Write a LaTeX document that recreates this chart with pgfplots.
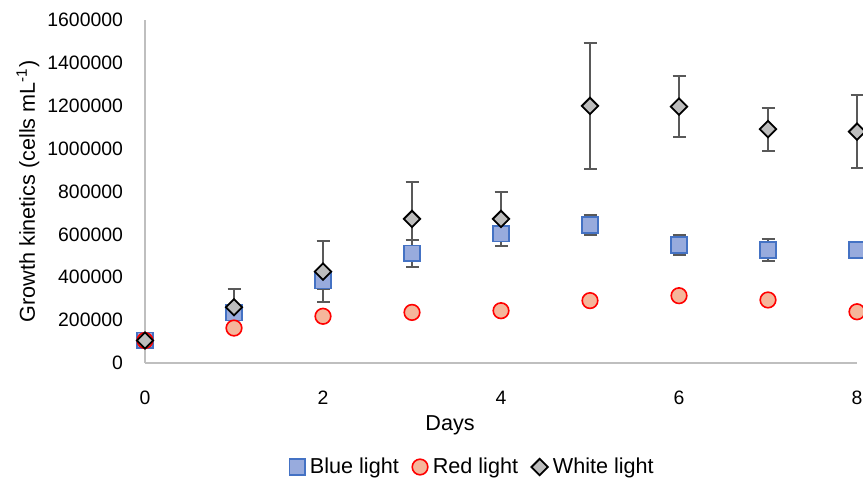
\documentclass[border=0pt]{standalone}
\usepackage{pgfplots}
\pgfplotsset{compat=1.18}
\usepackage{pgfplotstable}
\usetikzlibrary{calc}
\usepackage{fontspec}
\setmainfont{Liberation Sans}
\definecolor{axisgray}{HTML}{BFBFBF}
\definecolor{errgray}{HTML}{595959}
\definecolor{bluefill}{HTML}{98ABDD}
\definecolor{blueedge}{HTML}{4472C4}
\definecolor{redfill}{HTML}{F5B69B}
\definecolor{rededge}{HTML}{FF0000}
\definecolor{whitefill}{HTML}{BDBDBD}

\pgfplotstableread{
x y e
0 105000 0
1 235000 20000
2 384000 38000
3 512000 62000
4 603000 58000
5 644000 48000
6 550000 45000
7 527000 52000
8 527000 20000
}\blue
\pgfplotstableread{
x y e
0 105000 0
1 163000 0
2 218000 0
3 236000 0
4 244000 0
5 291000 0
6 314000 0
7 294000 0
8 239000 0
}\red
\pgfplotstableread{
x y e
0 105000 0
1 260000 85000
2 426000 141000
3 672000 171000
4 672000 124000
5 1199000 295000
6 1196000 143000
7 1091000 100000
8 1079000 170000
}\white

\newcommand\lab{\fontsize{10.8}{13}\selectfont}
\newcommand\tck{\fontsize{9.7}{12}\selectfont}
\begin{document}
\begin{tikzpicture}
\begin{axis}[
  width=356pt, height=171.5pt, scale only axis,
  xmin=0, xmax=8, ymin=0, ymax=1600000,
  clip=false,
  axis x line*=bottom, axis y line*=left,
  axis line style={draw=axisgray, line width=1pt, -},
  xtick={0,2,4,6,8},
  ytick={0,200000,400000,600000,800000,1000000,1200000,1400000,1600000},
  major tick length=0pt,
  scaled y ticks=false,
  /pgf/number format/assume math mode=true,
  yticklabel={\pgfmathprintnumber[fixed,1000 sep={}]{\tick}},
  ticklabel style={font=\tck, text=black},
  xticklabel style={yshift=-10.5pt},
  yticklabel style={xshift=-7.5pt},
  xlabel={Days},
  ylabel={Growth kinetics (cells mL\textsuperscript{-1})},
  every axis x label/.style={at={(axis description cs:0.4284,0)}, yshift=-31pt, anchor=center, font=\lab},
  every axis y label/.style={at={(axis description cs:0,0.5)}, xshift=-58.5pt, rotate=90, anchor=center, font=\lab},
  legend style={at={(axis description cs:0.2022,0)}, yshift=-52pt, anchor=west, draw=none, fill=none, inner sep=0pt,
    legend columns=-1, font=\lab,
    /tikz/every odd column/.append style={column sep=0.5pt},
    /tikz/every even column/.append style={column sep=4.7pt}},
  legend image code/.code={\draw[#1] plot coordinates {(0pt,0pt)};},
]
\addplot[forget plot, only marks, mark=none, errgray, line width=1pt,
  error bars/.cd, y dir=both, y explicit, error mark=-,
  error bar style={errgray, line width=1pt, solid},
  error mark options={errgray, line width=1pt, mark size=3.25pt, rotate=90}]
  table[x=x, y=y, y error=e] {\blue};
\addplot[forget plot, only marks, mark=none, errgray, line width=1pt,
  error bars/.cd, y dir=both, y explicit, error mark=-,
  error bar style={errgray, line width=1pt, solid},
  error mark options={errgray, line width=1pt, mark size=3.25pt, rotate=90}]
  table[x=x, y=y, y error=e] {\white};

\addplot[only marks, mark=square*, mark size=3.9pt,
  mark options={fill=bluefill, draw=blueedge, line width=0.8pt}]
  table[x=x, y=y] {\blue};
\addlegendentry{Blue light}
\addplot[only marks, mark=*, mark size=3.9pt,
  mark options={fill=redfill, draw=rededge, line width=0.8pt}]
  table[x=x, y=y] {\red};
\addlegendentry{Red light}
\addplot[only marks, mark=square*, mark size=2.9pt,
  mark options={fill=whitefill, draw=black, line width=0.9pt, rotate=45}]
  table[x=x, y=y] {\white};
\addlegendentry{White light}
\end{axis}
\pgfresetboundingbox
\path ($(current axis.south west)+(-72.5pt,-61pt)$) rectangle ($(current axis.north east)+(3pt,10pt)$);
\end{tikzpicture}
\end{document}
